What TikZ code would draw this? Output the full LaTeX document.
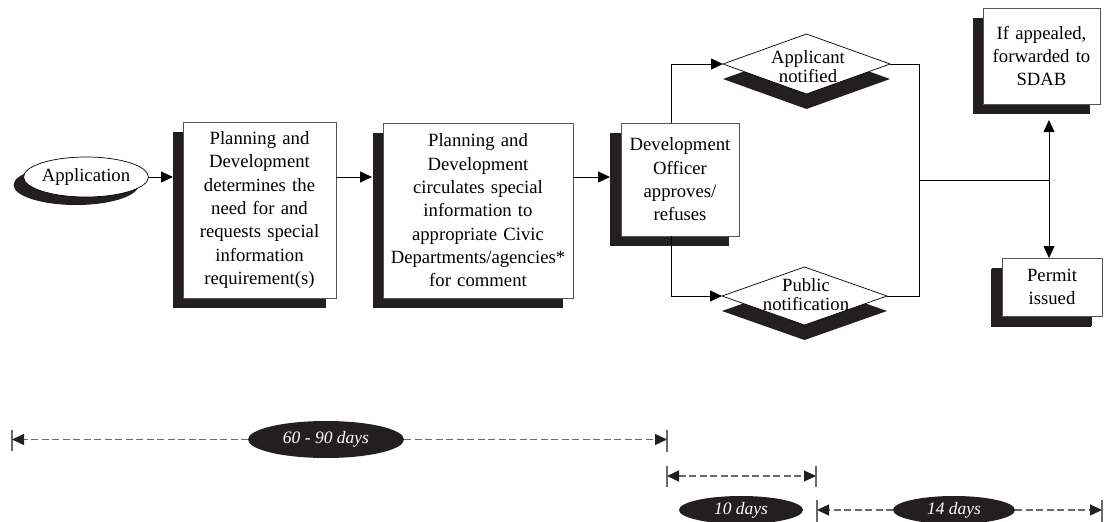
\documentclass[tikz,border=0pt]{standalone}
\usepackage{fontspec}
\setmainfont{Liberation Serif}
\usetikzlibrary{arrows.meta,shapes.geometric,shadows,calc}
\definecolor{shblack}{HTML}{231F20}
\definecolor{boxline}{HTML}{555555}
\definecolor{dashgray}{HTML}{6A6A6A}
\begin{document}
\begin{tikzpicture}[x=1pt,y=-1pt,
  every node/.style={inner sep=0pt,outer sep=0pt},
  boxtxt/.style={font=\fontsize{18.7}{23.3}\selectfont, align=center},
  pbox/.style={boxtxt, rectangle, draw=boxline, line width=0.8pt, fill=white,
     drop shadow={shadow xshift=-10pt,shadow yshift=-10pt,fill=shblack,opacity=1}},
  pdia/.style={diamond, draw=black, line width=0.7pt, fill=white, aspect=2.6,
     font=\fontsize{18.7}{19}\selectfont, align=center,
     drop shadow={shadow xshift=0pt,shadow yshift=-15pt,fill=shblack,opacity=1}},
  pell/.style={ellipse, draw=black, line width=0.7pt, fill=white,
     font=\fontsize{18.7}{22}\selectfont,
     drop shadow={shadow xshift=-10pt,shadow yshift=-8pt,fill=shblack,opacity=1}},
  dayell/.style={ellipse, fill=shblack, text=white,
     font=\fontsize{17.5}{20}\selectfont\itshape},
  conn/.style={draw=black, line width=0.8pt, -{Triangle[length=12pt,width=11pt]}},
  plainline/.style={draw=black, line width=0.8pt},
  dline/.style={draw=dashgray, line width=1.2pt, dash pattern=on 7pt off 3.5pt},
  dtip/.style={-{Triangle[length=12pt,width=11pt,color=shblack]}},
  tickline/.style={draw=dashgray, line width=1.2pt}
]
\useasboundingbox (0,0) rectangle (1104,522);

% nodes
\node[pell, minimum width=122pt, minimum height=40pt] (app) at (86,177) {Application};
\node[pbox, minimum width=153pt, minimum height=176pt, text width=150pt] (b1) at (259.5,210)
  {Planning and\\Development\\determines the\\need for and\\requests special\\information\\requirement(s)};
\node[pbox, minimum width=190pt, minimum height=175pt, text width=186pt] (b2) at (478,210.5)
  {Planning and\\Development\\circulates special\\information to\\appropriate Civic\\Departments/agencies*\\for comment};
\node[pbox, minimum width=118pt, minimum height=113pt, text width=116pt,
  drop shadow={shadow xshift=-11pt,shadow yshift=-10pt,fill=shblack,opacity=1}] (b3) at (680,179.5)
  {Development\\Officer\\approves/\\refuses};
\node[pdia, minimum width=167pt, minimum height=60pt] (d1) at (806.5,64) {};
\node[boxtxt, font=\fontsize{18.7}{19}\selectfont] (d1t) at (808,67) {Applicant\\notified};
\node[pdia, minimum width=165pt, minimum height=58pt] (d2) at (804.5,296) {};
\node[boxtxt, font=\fontsize{18.7}{19}\selectfont] (d2t) at (806,295) {Public\\notification};
\node[pbox, minimum width=117pt, minimum height=96pt, text width=115pt] (sdab) at (1041.5,56)
  {If appealed,\\forwarded to\\SDAB};
\node[pbox, minimum width=100pt, minimum height=58pt, text width=98pt,
  drop shadow={shadow xshift=-11pt,shadow yshift=-11pt,fill=shblack,opacity=1}] (permit) at (1052,287)
  {Permit\\issued};

% helper coordinates
\coordinate (s1) at ([xshift=-10pt]b1.west);
\coordinate (s2) at ([xshift=-11pt]b2.west);
\coordinate (s3) at ([xshift=-11pt]b3.west);
\coordinate (vx) at (671,0);
\coordinate (jn) at (919,180);
\coordinate (jr) at (1049,180);
\coordinate (sdabin) at ([yshift=-16pt]sdab.south);

% connectors
\draw[conn] (app.east) -- (app.east -| s1);
\draw[conn] (b1.east |- app.east) -- (app.east -| s2);
\draw[conn] (b2.east |- app.east) -- (app.east -| s3);
\draw[conn] (b3.north -| vx) |- (d1.west);
\draw[conn] (b3.south -| vx) |- (d2.west);
\draw[plainline] (d1.east) -| (jn);
\draw[plainline] (d2.east) -| (jn);
\draw[plainline] (jn) -- (jr);
\draw[conn] (jr) -- (jr |- sdabin);
\draw[conn] (jr) -- (jr |- permit.north);

% timeline
\node[dayell, minimum width=156pt, minimum height=37pt] (e1) at (326,439.5) {60 - 90 days};
\node[dayell, minimum width=124pt, minimum height=28pt] (e2) at (741,510) {10 days};
\node[dayell, minimum width=122pt, minimum height=28pt] (e3) at (954,510) {14 days};

\coordinate (t1l) at (12,439.5);
\coordinate (t1r) at (667,439.5);
\coordinate (t2l) at (667,476);
\coordinate (t2r) at (816,476);
\coordinate (t3l) at (817,510);
\coordinate (t3r) at (1102,510);

\draw[tickline] ([yshift=10pt]t1l) -- ([yshift=-11pt]t1l);
\draw[tickline] ([yshift=10pt]t1r) -- ([yshift=-12pt]t1r);
\draw[tickline] ([yshift=10pt]t2l) -- ([yshift=-11pt]t2l);
\draw[tickline] ([yshift=10pt]t2r) -- ([yshift=-11pt]t2r);
\draw[tickline] ([yshift=10pt]t3l) -- ([yshift=-14pt]t3l);
\draw[tickline] ([yshift=10pt]t3r) -- ([yshift=-14pt]t3r);

\draw[dline,dtip] (e1.west) -- (t1l);
\draw[dline,dtip] (e1.east) -- (t1r);
\draw[dline,{Triangle[length=12pt,width=11pt,color=shblack]}-{Triangle[length=12pt,width=11pt,color=shblack]}] (t2l) -- (t2r);
\draw[dline,dtip] (e3.west) -- (t3l);
\draw[dline,dtip] (e3.east) -- (t3r);
\end{tikzpicture}
\end{document}
